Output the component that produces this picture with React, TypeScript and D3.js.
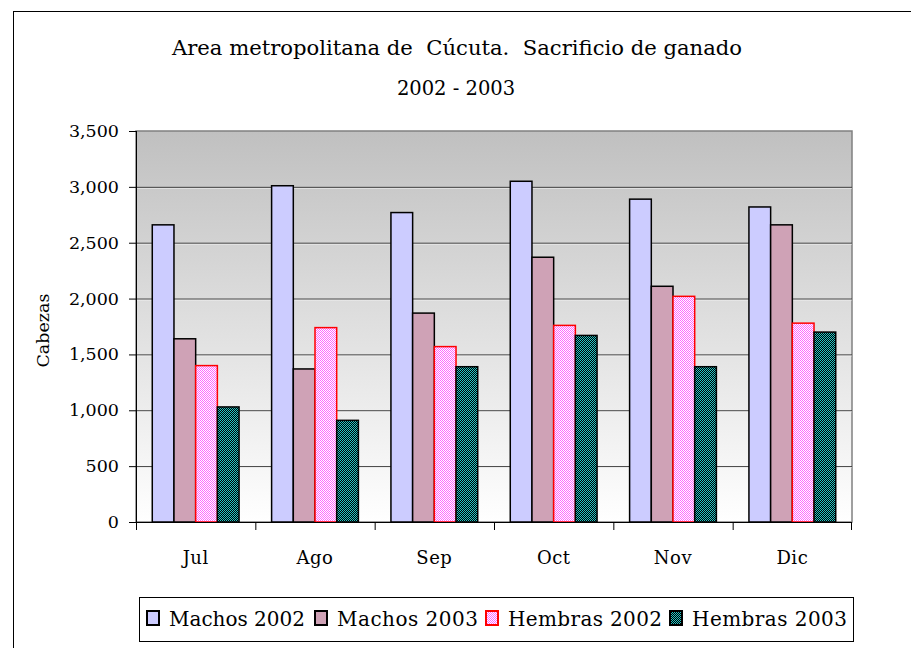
import * as d3 from 'd3'

const MONTHS = ['Jul', 'Ago', 'Sep', 'Oct', 'Nov', 'Dic']
const SERIES = ['Machos 2002', 'Machos 2003', 'Hembras 2002', 'Hembras 2003']

const machos2002 = [2660, 3010, 2770, 3050, 2890, 2820]
const machos2003 = [1640, 1370, 1870, 2370, 2110, 2660]
const hembras2002 = [1400, 1740, 1570, 1760, 2020, 1780]
const hembras2003 = [1030, 910, 1390, 1670, 1390, 1700]

const Y_TICKS = [0, 500, 1000, 1500, 2000, 2500, 3000, 3500]

const TITLE_1 = 'Area metropolitana de  Cúcuta.  Sacrificio de ganado'
const TITLE_2 = '2002 - 2003'

const W = 911
const H = 648
const PLOT = { left: 136, right: 852, top: 131, bottom: 522 }
const FONT = '"DejaVu Serif", serif'

const FILLS = ['#ccccff', '#cfa2b6', 'url(#pinkCheck)', 'url(#tealCheck)']
const STROKES = ['#000', '#000', '#ff0000', '#000']

// legend layout: swatch x, text width
const LEGEND_X = [147, 315, 486, 670]
const LEGEND_TEXT_W = [136, 141, 154, 155]

export default function App() {
  const values = [machos2002, machos2003, hembras2002, hembras2003]

  const x0 = d3.scaleBand().domain(MONTHS).range([PLOT.left, PLOT.right]).padding(0)
  const x1 = d3
    .scaleBand()
    .domain(SERIES)
    .range([0, x0.bandwidth()])
    .paddingInner(0)
    .paddingOuter(0.75)
  const y = d3.scaleLinear().domain([0, 3500]).range([PLOT.bottom, PLOT.top])

  const fmt = d3.format(',')

  return (
    <svg
      width={W}
      height={H}
      style={{ position: 'absolute', left: 0, top: 0, display: 'block', background: '#fff' }}
      fontFamily={FONT}
    >
      <defs>
        <linearGradient id="plotBg" x1="0" y1="0" x2="0" y2="1">
          <stop offset="0%" stopColor="#c0c0c0" />
          <stop offset="100%" stopColor="#ffffff" />
        </linearGradient>
        <pattern id="pinkCheck" width="2" height="2" patternUnits="userSpaceOnUse">
          <rect width="2" height="2" fill="#ffffff" />
          <rect width="1" height="1" fill="#ff66ff" />
          <rect x="1" y="1" width="1" height="1" fill="#ff66ff" />
        </pattern>
        <pattern id="tealCheck" width="2" height="2" patternUnits="userSpaceOnUse">
          <rect width="2" height="2" fill="#000000" />
          <rect width="1" height="1" fill="#22c8c8" />
          <rect x="1" y="1" width="1" height="1" fill="#22c8c8" />
        </pattern>
      </defs>

      {/* outer chart frame (only top and left visible) */}
      <rect x={13.5} y={11.5} width={1000} height={1000} fill="#fff" stroke="#000" strokeWidth={1} />

      {/* title */}
      <text
        x={457}
        y={55}
        textAnchor="middle"
        fontSize={20.5}
        fill="#000"
        style={{ whiteSpace: 'pre' }}
        textLength={570}
        lengthAdjust="spacingAndGlyphs"
      >
        {TITLE_1}
      </text>
      <text x={456} y={95} textAnchor="middle" fontSize={19.5} fill="#000">
        {TITLE_2}
      </text>

      {/* plot background */}
      <rect
        x={PLOT.left}
        y={PLOT.top}
        width={PLOT.right - PLOT.left}
        height={PLOT.bottom - PLOT.top}
        fill="url(#plotBg)"
        stroke="#808080"
        strokeWidth={1.5}
      />

      {/* gridlines */}
      {Y_TICKS.filter((t) => t > 0 && t < 3500).map((t) => (
        <g key={t}>
          <line x1={PLOT.left} x2={PLOT.right} y1={y(t) + 0.5} y2={y(t) + 0.5} stroke="#333" strokeWidth={1} />
          <line x1={PLOT.left} x2={PLOT.right} y1={y(t) + 1.5} y2={y(t) + 1.5} stroke="#fff" strokeOpacity={0.5} strokeWidth={1} />
        </g>
      ))}

      {/* bars */}
      {SERIES.map((s, si) =>
        MONTHS.map((m, mi) => {
          const bx = (x0(m) ?? 0) + (x1(s) ?? 0)
          const by = y(values[si][mi])
          return (
            <rect
              key={`${s}-${m}`}
              x={bx}
              y={by}
              width={x1.bandwidth()}
              height={PLOT.bottom - by}
              fill={FILLS[si]}
              stroke={STROKES[si]}
              strokeWidth={1.5}
            />
          )
        })
      )}

      {/* y axis */}
      <line x1={PLOT.left + 0.5} x2={PLOT.left + 0.5} y1={PLOT.top} y2={PLOT.bottom + 8} stroke="#000" />
      {Y_TICKS.map((t) => (
        <g key={t}>
          <line x1={PLOT.left - 7} x2={PLOT.left} y1={y(t) + 0.5} y2={y(t) + 0.5} stroke="#000" />
          <text x={119} y={y(t) + 6} textAnchor="end" fontSize={17.5} fill="#000">
            {fmt(t)}
          </text>
        </g>
      ))}
      <text
        transform={`translate(49,${(PLOT.top + PLOT.bottom) / 2 + 4}) rotate(-90)`}
        textAnchor="middle"
        fontSize={17.5}
        fill="#000"
      >
        Cabezas
      </text>

      {/* x axis */}
      <line x1={PLOT.left} x2={PLOT.right} y1={PLOT.bottom + 0.5} y2={PLOT.bottom + 0.5} stroke="#000" />
      {MONTHS.map((m) => (
        <line
          key={`tick-${m}`}
          x1={(x0(m) ?? 0) + 0.5}
          x2={(x0(m) ?? 0) + 0.5}
          y1={PLOT.bottom}
          y2={PLOT.bottom + 8}
          stroke="#000"
        />
      ))}
      <line x1={PLOT.right - 0.5} x2={PLOT.right - 0.5} y1={PLOT.bottom} y2={PLOT.bottom + 8} stroke="#000" />
      {MONTHS.map((m) => (
        <text
          key={`lab-${m}`}
          x={(x0(m) ?? 0) + x0.bandwidth() / 2}
          y={564}
          textAnchor="middle"
          fontSize={18}
          letterSpacing={0.5}
          fill="#000"
        >
          {m}
        </text>
      ))}

      {/* legend */}
      <rect x={139.5} y={597.5} width={714} height={44} fill="#fff" stroke="#000" strokeWidth={1} />
      {SERIES.map((s, si) => (
        <g key={`leg-${s}`}>
          <rect
            x={LEGEND_X[si]}
            y={611}
            width={12}
            height={14}
            fill={FILLS[si]}
            stroke={STROKES[si]}
            strokeWidth={2}
          />
          <text
            x={LEGEND_X[si] + 22}
            y={626}
            fontSize={20}
            fill="#000"
            textLength={LEGEND_TEXT_W[si]}
            lengthAdjust="spacing"
          >
            {s}
          </text>
        </g>
      ))}
    </svg>
  )
}
